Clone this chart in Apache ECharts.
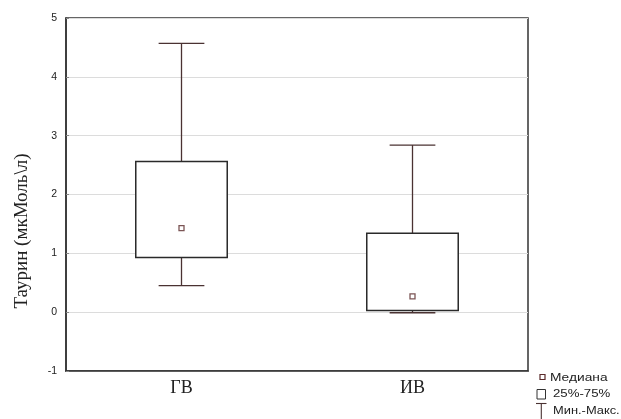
<!DOCTYPE html>
<html><head><meta charset="utf-8">
<script src="https://cdn.jsdelivr.net/npm/echarts@6/dist/echarts.min.js"></script>
<style>html,body{margin:0;padding:0;background:#fff}#c{width:621px;height:419px}</style>
</head><body><div id="c"></div>
<script>
var categories = ['ГВ', 'ИВ'];
var minVals = [0.45, -0.01];
var q1Vals = [0.93, 0.03];
var medianVals = [1.43, 0.27];
var q3Vals = [2.56, 1.34];
var maxVals = [4.57, 2.84];
var yTicks = { min: -1, max: 5, interval: 1 };
var yTitle = 'Таурин (мкМоль\\л)';
var legendLabels = ['Медиана', '25%-75%', 'Мин.-Макс.'];

var boxData = categories.map(function (c, i) {
  return [i, minVals[i], q1Vals[i], medianVals[i], q3Vals[i], maxVals[i]];
});
var medData = categories.map(function (c, i) { return [i, medianVals[i]]; });

var whiskerColor = '#4a3232';
var boxColor = '#2a2a2a';
var legFont = { fontFamily: 'Liberation Sans', fontSize: 11, fill: '#222', verticalAlign: 'middle' };

var chart = echarts.init(document.getElementById('c'));
chart.setOption({
  animation: false,
  grid: { left: 66, right: 93, top: 18, bottom: 48, show: true, borderColor: '#333', borderWidth: 1.5, backgroundColor: 'transparent' },
  xAxis: {
    type: 'category', data: categories,
    axisLine: { onZero: false, lineStyle: { color: '#333', width: 1.5 } },
    axisTick: { alignWithLabel: true, inside: true, length: 3, lineStyle: { color: '#555' } },
    axisLabel: { fontFamily: 'Liberation Serif', fontSize: 18, color: '#222', margin: 8 }
  },
  yAxis: {
    type: 'value', min: yTicks.min, max: yTicks.max, interval: yTicks.interval,
    axisLine: { show: true, lineStyle: { color: '#333', width: 1.5 } },
    axisTick: { show: true, inside: true, length: 3, lineStyle: { color: '#888' } },
    axisLabel: { fontFamily: 'Liberation Sans', fontSize: 10.5, color: '#222', margin: 9 },
    splitLine: { lineStyle: { color: '#dcdcdc', width: 1 } }
  },
  series: [
    {
      type: 'custom',
      data: boxData,
      renderItem: function (params, api) {
        var x = api.value(0);
        var pMin = api.coord([x, api.value(1)]);
        var pQ1 = api.coord([x, api.value(2)]);
        var pQ3 = api.coord([x, api.value(4)]);
        var pMax = api.coord([x, api.value(5)]);
        var bw = api.size([1, 0])[0] * 0.396;
        var cw = bw * 0.5;
        var cx = pQ1[0];
        var ws = { stroke: whiskerColor, lineWidth: 1.3 };
        return {
          type: 'group',
          children: [
            { type: 'line', shape: { x1: cx, y1: pMax[1], x2: cx, y2: pQ3[1] }, style: ws },
            { type: 'line', shape: { x1: cx - cw / 2, y1: pMax[1], x2: cx + cw / 2, y2: pMax[1] }, style: ws },
            { type: 'line', shape: { x1: cx, y1: pQ1[1], x2: cx, y2: pMin[1] }, style: ws },
            { type: 'line', shape: { x1: cx - cw / 2, y1: pMin[1], x2: cx + cw / 2, y2: pMin[1] }, style: ws },
            { type: 'rect', shape: { x: cx - bw / 2, y: pQ3[1], width: bw, height: pQ1[1] - pQ3[1] },
              style: { fill: '#fff', stroke: boxColor, lineWidth: 1.5 } }
          ]
        };
      },
      z: 3
    },
    {
      type: 'scatter',
      data: medData,
      symbol: 'rect', symbolSize: 5,
      itemStyle: { color: '#fff', borderColor: '#5a2a2a', borderWidth: 1.3 },
      z: 5
    }
  ],
  graphic: [
    { type: 'text', x: 22.5, y: 231, rotation: Math.PI / 2,
      style: { text: yTitle, fontFamily: 'Liberation Serif', fontSize: 19, fill: '#222', align: 'center', verticalAlign: 'middle' } },
    { type: 'rect', shape: { x: 540, y: 374.5, width: 5, height: 5 }, style: { fill: '#fff', stroke: '#5a2a2a', lineWidth: 1.2 } },
    { type: 'text', x: 550, y: 377.5, scaleX: 1.25, style: Object.assign({ text: legendLabels[0] }, legFont) },
    { type: 'rect', shape: { x: 537, y: 389.5, width: 8.5, height: 9.5 }, style: { fill: '#fff', stroke: '#333', lineWidth: 1 } },
    { type: 'text', x: 553, y: 394, scaleX: 1.2, style: Object.assign({ text: legendLabels[1] }, legFont) },
    { type: 'line', shape: { x1: 536, y1: 403.5, x2: 546.5, y2: 403.5 }, style: { stroke: whiskerColor, lineWidth: 1.1 } },
    { type: 'line', shape: { x1: 541.3, y1: 403.5, x2: 541.3, y2: 419 }, style: { stroke: whiskerColor, lineWidth: 1.1 } },
    { type: 'text', x: 553, y: 411, scaleX: 1.17, style: Object.assign({ text: legendLabels[2] }, legFont) }
  ]
});
</script></body></html>
